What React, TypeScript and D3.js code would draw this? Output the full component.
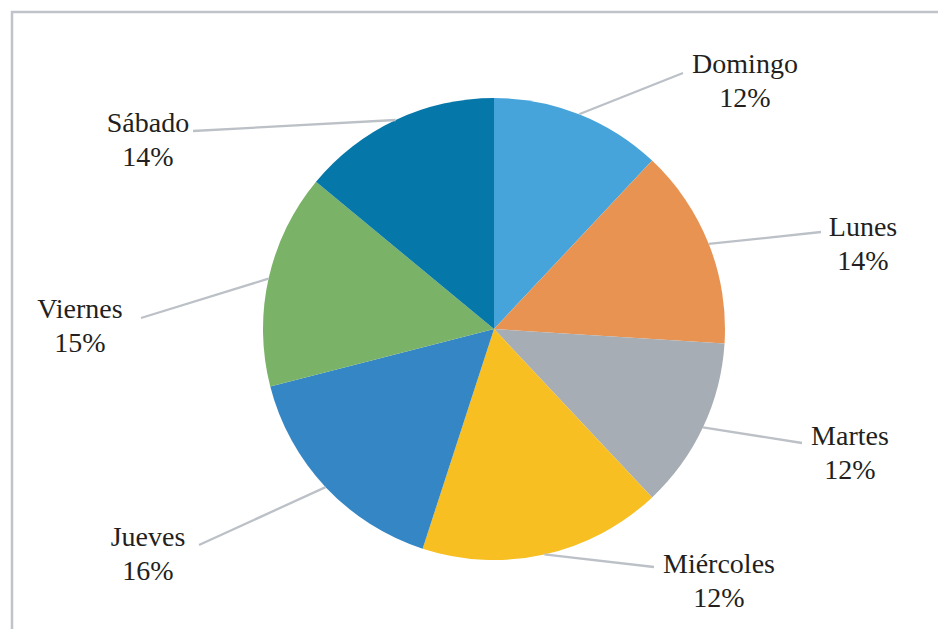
import React from "react";
import * as d3 from "d3";

const days = ["Domingo", "Lunes", "Martes", "Miércoles", "Jueves", "Viernes", "Sábado"];
const shares = [12, 14, 12, 17, 16, 15, 14];
const percentLabels = ["12%", "14%", "12%", "12%", "16%", "15%", "14%"];
const colors = ["#46A4DB", "#E89352", "#A7ADB4", "#F7BF22", "#3486C5", "#7AB367", "#0677A9"];

// label layout: text block center and leader end, as offsets from pie center
const labelCenter: [number, number][] = [
  [251, -249], [369, -86], [356, 123], [225, 251], [-346, 224], [-414, -4], [-346, -190],
];
const leaderEnd: [number, number][] = [
  [189, -256], [327, -97], [308, 114], [160, 238], [-295, 216], [-353, -11], [-301, -198],
];

const W = 938, H = 629;
const cx = 494, cy = 329, R = 231;

export default function App() {
  const pie = d3.pie<number>().sort(null).value((d) => d);
  const arcs = pie(shares);
  const arc = d3.arc<d3.PieArcDatum<number>>().innerRadius(0).outerRadius(R);

  return (
    <svg width={W} height={H} style={{ position: "absolute", left: 0, top: 0, background: "#fff" }}>
      <rect x={12} y={12} width={2000} height={2000} fill="none" stroke="#C0C4CA" strokeWidth={2.5} />
      <g transform={`translate(${cx},${cy})`}>
        {arcs.map((a, i) => (
          <path key={i} d={arc(a) || ""} fill={colors[i]} />
        ))}
        {arcs.map((a, i) => {
          const mid = (a.startAngle + a.endAngle) / 2;
          const [sx, sy] = d3.pointRadial(mid, R);
          const [ex, ey] = leaderEnd[i];
          return (
            <line key={"l" + i} x1={sx} y1={sy} x2={ex} y2={ey} stroke="#BCC1C8" strokeWidth={2.3} />
          );
        })}
        {arcs.map((a, i) => {
          const [lx, ly] = labelCenter[i];
          return (
            <text
              key={"t" + i}
              x={lx}
              y={ly}
              textAnchor="middle"
              style={{ fontFamily: '"Liberation Serif", "DejaVu Serif", Times, serif', fontSize: "28px" }}
              fill="#231F20"
            >
              <tspan x={lx} dy={-7}>{days[i]}</tspan>
              <tspan x={lx} dy={34}>{percentLabels[i]}</tspan>
            </text>
          );
        })}
      </g>
    </svg>
  );
}
